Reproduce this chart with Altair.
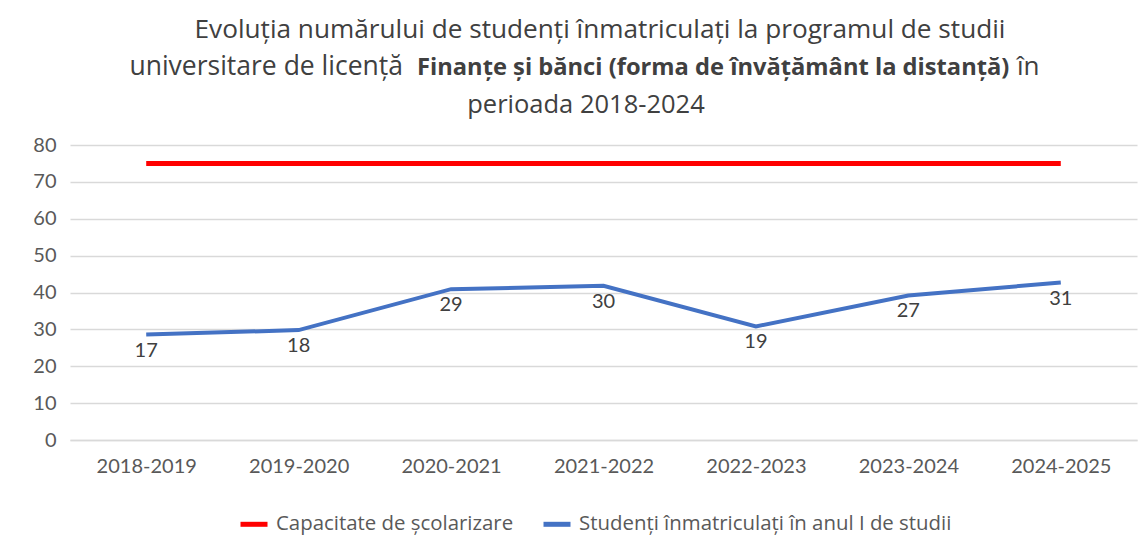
import altair as alt
import pandas as pd

# ---- data ----
years = ["2018-2019", "2019-2020", "2020-2021", "2021-2022", "2022-2023", "2023-2024", "2024-2025"]
capacity = [75, 75, 75, 75, 75, 75, 75]
# plotted height of the blue line (as drawn in the reference)
enrolled_plot = [28.6, 29.8, 40.9, 41.8, 30.8, 39.2, 42.7]
# data labels shown under the blue line
enrolled_labels = ["17", "18", "29", "30", "19", "27", "31"]
y_ticks = [0, 10, 20, 30, 40, 50, 60, 70, 80]

s_cap = "Capacitate de școlarizare"
s_enr = "Studenți înmatriculați în anul I de studii"

title_l1 = "Evoluția numărului de studenți înmatriculați la programul de studii"
title_l2a = "universitare de licență"
title_l2b = "Finanțe și bănci (forma de învățământ la distanță)"
title_l2c = "în"
title_l3 = "perioada 2018-2024"

FONT = "Lato"
TFONT = "Open Sans"
W, H = 1067, 295

df = pd.DataFrame({
    "year": years * 2,
    "value": capacity + enrolled_plot,
    "series": [s_cap] * len(years) + [s_enr] * len(years),
})
df_lab = pd.DataFrame({"year": years, "value": enrolled_plot, "label": enrolled_labels})

x_enc = alt.X("year:N", sort=years, title=None,
              scale=alt.Scale(type="point", padding=0.5),
              axis=alt.Axis(ticks=False, domain=True, domainColor="#D9D9D9", domainWidth=1.5,
                            labelFont=FONT, labelFontSize=20, labelColor="#595959",
                            labelPadding=16, labelAngle=0, grid=False))
y_enc = alt.Y("value:Q", title=None,
              scale=alt.Scale(domain=[0, 80], nice=False),
              axis=alt.Axis(values=y_ticks, ticks=False, domain=False,
                            gridColor="#D9D9D9", gridWidth=1.5, labelOverlap=False,
                            labelFont=FONT, labelFontSize=20, labelColor="#595959",
                            labelPadding=14))
color_enc = alt.Color("series:N", title=None,
                      scale=alt.Scale(domain=[s_cap, s_enr], range=["#FF0000", "#4472C4"]),
                      legend=alt.Legend(orient="none", legendX=168, legendY=363,
                                        direction="horizontal", symbolType="stroke",
                                        symbolStrokeWidth=5, symbolSize=729,
                                        labelFont=TFONT, labelFontSize=20.4, labelColor="#595959",
                                        labelLimit=0,
                                        labelOffset=6, columnPadding=19, padding=0))

red = alt.Chart(df).transform_filter(alt.datum.series == s_cap).mark_line(
    strokeWidth=5, strokeCap="butt").encode(x=x_enc, y=y_enc, color=color_enc)
blue = alt.Chart(df).transform_filter(alt.datum.series == s_enr).mark_line(
    strokeWidth=4, strokeCap="butt").encode(x=x_enc, y=y_enc, color=color_enc)

labels = alt.Chart(df_lab).mark_text(
    font=FONT, fontSize=20, color="#404040", baseline="middle", align="center", dy=16
).encode(x=x_enc, y=y_enc, text="label:N")


def title_text(txt, x, y, align="center", weight="normal", size=25.5):
    return alt.Chart(pd.DataFrame({"t": [txt]})).mark_text(
        font=TFONT, fontSize=size, color="#404040", align=align, baseline="alphabetic",
        fontWeight=weight
    ).encode(text="t:N", x=alt.value(x), y=alt.value(y))


t1 = title_text(title_l1, 530, -107, size=26.2)
t2a = title_text(title_l2a, 333, -70, align="right", size=26.5)
t2b = title_text(title_l2b, 347, -70, align="left", weight="bold", size=23.7)
t2c = title_text(title_l2c, 947, -70, align="left", size=26)
t3 = title_text(title_l3, 516, -32)

chart = alt.layer(red, blue, labels, t1, t2a, t2b, t2c, t3).properties(
    width=W, height=H,
    autosize=alt.AutoSizeParams(type="none"),
    padding={"left": 62, "top": 137, "right": 2, "bottom": 100},
    background="white",
).configure_view(stroke=None)

chart.save("out.html", embed_options={"renderer": "svg", "actions": False})
